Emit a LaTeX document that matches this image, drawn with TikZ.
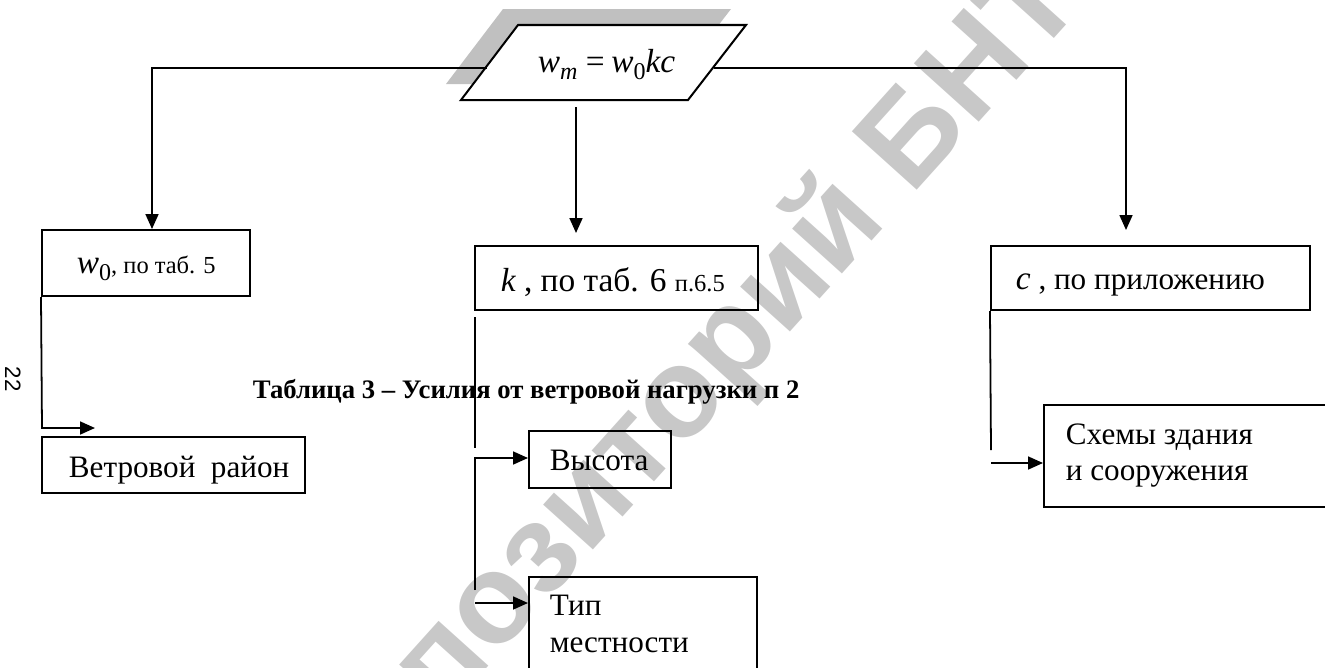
\documentclass[tikz,border=0pt]{standalone}
\usepackage{fontspec}
\usepackage{graphicx}
\setmainfont{Liberation Serif}
\newfontfamily\wmfont{Liberation Sans}
\usetikzlibrary{arrows.meta,fit}
\definecolor{shadegrey}{RGB}{192,192,192}
\definecolor{wmgrey}{RGB}{200,200,200}
\newcommand{\ivar}[1]{{\fontsize{15}{18}\selectfont\itshape #1}}
\newcommand{\isub}[1]{\raisebox{-0.5ex}{\fontsize{10.8}{12}\selectfont #1}}
\begin{document}
\begin{tikzpicture}[x=0.4493pt,y=-0.4493pt,
  line width=0.8pt,
  box/.style={draw, line width=0.9pt, inner sep=0pt},
  arr/.style={-{Triangle[length=6.7pt,width=5.8pt]}},
  lbl/.style={anchor=base west, inner sep=0pt, font=\fontsize{14}{16}\selectfont},
  wmtext/.style={inner sep=0pt, text=wmgrey, font=\wmfont\bfseries\fontsize{57}{61}\selectfont}]
\useasboundingbox (0,0) rectangle (1325,667);
% watermark
\begin{scope}
\clip (0,0) rectangle (1325,667);
\node[wmtext, rotate=48] (wm) at (715,364) {Репозиторий БНТУ};
\end{scope}
% parallelogram with shadow
\coordinate (p1) at (461,100);
\coordinate (p2) at (518,25);
\coordinate (p3) at (746,25);
\coordinate (p4) at (688,100);
\fill[shadegrey] ([shift={(-15,-16)}]p1) -- ([shift={(-15,-16)}]p2) -- ([shift={(-15,-16)}]p3) -- ([shift={(-15,-16)}]p4) -- cycle;
\draw[fill=white, line width=0.9pt] (p1) -- (p2) -- (p3) -- (p4) -- cycle;
\node[lbl] (form) at (537,72)
  {\ivar{w}\isub{\itshape m}{\fontsize{15}{18}\selectfont\hspace{0.25em}=\hspace{0.2em}}\ivar{w}\isub{0}\ivar{kc}};
% boxes
\node[box, fit={(42,230) (250,296)}] (w0) {};
\node[box, fit={(475,246) (758,310)}] (kb) {};
\node[box, fit={(991,246) (1310,310)}] (cb) {};
\node[box, fit={(42,437) (305,493)}] (vr) {};
\node[box, fit={(529,431) (671,488)}] (vys) {};
\node[box, fit={(529,577) (757,690)}] (tip) {};
\node[box, fit={(1044,405) (1335,507)}] (sh) {};
% texts
\node[lbl] (w0t) at (76,273) {\ivar{w}\isub{0}{\fontsize{11}{13}\selectfont, по таб. 5}};
\node[lbl, font=\fontsize{15}{18}\selectfont] (kbt) at (500,291) {\ivar{k} , по таб. 6 {\fontsize{11}{13}\selectfont п.6.5}};
\node[lbl] (cbt) at (1015,289) {\ivar{c} , по приложению};
\node[lbl] (vrt) at (68,477) {Ветровой\ \ район};
\node[lbl] (vyst) at (549,470) {Высота};
\node[lbl] (tipt1) at (549,615) {Тип};
\node[lbl] (tipt2) at (549,652) {местности};
\node[lbl] (sht1) at (1065,444) {Схемы здания};
\node[lbl] (sht2) at (1065,480) {и сооружения};
\node[lbl, font=\bfseries\fontsize{12}{14}\selectfont] (cap) at (252,398)
  {Таблица 3 – Усилия от ветровой нагрузки п 2};
\node[inner sep=0pt, rotate=-90, font=\wmfont\fontsize{10}{12}\selectfont] (pg) at (13,379) {22};
% connectors from the formula
\coordinate (pl) at (487,68);
\coordinate (lc) at (152,68);
\draw[arr] (pl) -- (lc) -- (lc |- w0.north);
\coordinate (pm) at (576,107);
\coordinate (km) at (576,233);
\draw[arr] (pm) -- (km);
\coordinate (pr) at (714,68);
\coordinate (rc) at (1126,68);
\coordinate (rt) at (1126,230);
\draw[arr] (pr) -- (rc) -- (rt);
% w0 -> wind region
\coordinate (w0c) at (42,428);
\coordinate (vra) at (95,428);
\draw[arr] (w0.south west) -- (w0c) -- (vra);
% k -> height, terrain
\coordinate (k1) at (475,317);
\coordinate (k2) at (475,448);
\draw (k1) -- (k2);
\coordinate (k3) at (475,590);
\coordinate (k4) at (475,458);
\draw[arr] (k3) -- (k4) -- (k4 -| vys.west);
\coordinate (k5) at (475,603);
\draw[arr] (k5) -- (k5 -| tip.west);
% c -> schemes
\coordinate (c1) at (991,450);
\draw (cb.south west) -- (c1);
\coordinate (c2) at (991,463);
\draw[arr] (c2) -- (c2 -| sh.west);
\end{tikzpicture}
\end{document}
